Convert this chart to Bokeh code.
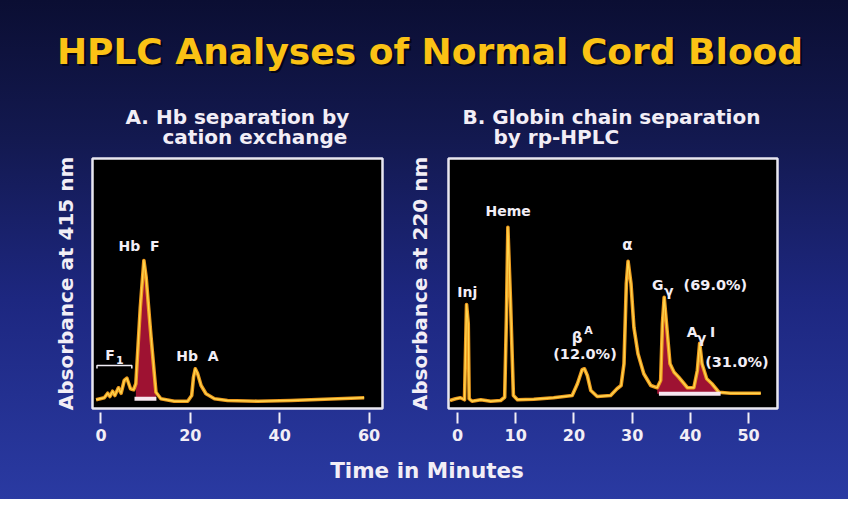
import numpy as np
from bokeh.plotting import figure
from bokeh.models import Range1d, FixedTicker, ColumnDataSource
from bokeh.layouts import column, row
from bokeh.embed import file_html
from bokeh.resources import INLINE
from bokeh.core.properties import value

# ---------------- data ----------------
# Panel A: Hb separation by cation exchange (time in min, absorbance at 415 nm, arbitrary units)
a_time = [-1.1, 0.74, 1.5, 2.0, 2.6, 3.1, 3.9, 4.5, 5.2, 5.8, 6.6, 7.3, 7.8, 8.8, 9.6,
          10.1, 11.2, 12.3, 13.4, 16.4, 19.4, 20.3, 20.7, 21.1, 21.6, 22.4, 23.5, 25.4,
          28.3, 35.1, 42.5, 50.0, 58.9]
a_abs = [3.5, 4.3, 6.1, 4.8, 6.9, 5.2, 8.3, 6.1, 11.2, 12.1, 7.9, 7.5, 9.9, 40.5, 59.2,
         52.5, 28.5, 6.5, 3.9, 2.9, 2.9, 5.2, 12.5, 15.9, 14.1, 9.2, 5.9, 3.9,
         3.2, 2.9, 3.2, 3.7, 4.3]
a_ticks = [0, 20, 40, 60]
a_shade = (7.8, 12.3)      # Hb F integrated region (min)
a_bar = (7.5, 12.4)
a_shade_base = 3.9

# Panel B: globin chain separation by rp-HPLC (time in min, absorbance at 220 nm)
b_time = [-1.3, -0.34, 0.5, 1.2, 1.55, 1.84, 2.0, 2.5, 4.0, 5.7, 7.4, 8.1, 8.4, 8.65, 9.1,
          9.6, 10.3, 13.1, 16.5, 19.7, 20.6, 21.4, 21.8, 22.3, 22.9, 24.0, 26.3, 27.4, 28.1,
          28.6, 29.0, 29.3, 29.8, 30.3, 31.0, 32.0, 33.2, 34.3, 34.9, 35.2, 35.5, 35.9, 36.5,
          37.2, 38.0, 39.5, 40.6, 41.2, 41.6, 42.0, 42.8, 43.7, 44.9, 46.9, 52.1]
b_abs = [3.2, 3.9, 4.3, 3.5, 41.6, 33.9, 3.9, 2.9, 3.5, 2.9, 3.2, 4.5, 36.5, 72.5, 43.2,
         5.2, 3.5, 3.7, 4.3, 5.2, 9.9, 15.5, 15.9, 13.2, 7.2, 4.8, 5.2, 7.9, 9.2,
         17.9, 49.9, 58.9, 49.9, 32.5, 21.9, 13.9, 9.2, 8.3, 11.2, 33.9, 44.5, 33.9, 17.9,
         14.5, 12.5, 8.3, 8.3, 15.2, 26.1, 17.9, 11.9, 9.9, 6.5, 6.1, 6.1]
b_ticks = [0, 10, 20, 30, 40, 50]
b_shade = (34.3, 44.9)     # G-gamma + A-gamma integrated region
b_bar = (34.6, 45.2)
b_shade_base = 5.9

TITLE = "HPLC Analyses of Normal Cord Blood"
SUB_A = ["A. Hb separation by", "cation exchange"]
SUB_B = ["B. Globin chain separation", "by rp-HPLC"]
YLAB_A = "Absorbance at 415 nm"
YLAB_B = "Absorbance at 220 nm"
XLAB = "Time in Minutes"

# peak labels: text, x (min), y (abs), font size
a_lab_text = ["Hb\u00a0\u00a0F", "F", "1", "Hb\u00a0\u00a0A"]
a_lab_x = [8.5, 2.0, 4.2, 21.6]
a_lab_y = [65.2, 21.6, 19.6, 21.2]
a_lab_size = ["14px", "14px", "11px", "14px"]

b_lab_text = ["Inj", "Heme", "\u03b2", "A", "(12.0%)", "\u03b1", "G", "\u03b3", "(69.0%)",
              "A", "\u03b3", "I", "(31.0%)"]
b_lab_x = [1.67, 8.7, 20.56, 22.5, 21.9, 29.2, 34.4, 36.3, 44.3, 40.3, 41.9, 43.8, 48.0]
b_lab_y = [46.5, 79.2, 28.3, 31.2, 22.0, 65.6, 49.6, 47.2, 49.6, 30.8, 28.4, 30.8, 18.8]
b_lab_size = ["14px", "14px", "15px", "11px", "14.5px", "15px", "14px", "14px", "14.5px",
              "14px", "14px", "14px", "14.5px"]

# ---------------- style ----------------
FONT = "DejaVu Sans"
TXT = "#f2eef6"
TRACE_OUT = "#ec9a1e"
TRACE_IN = "#ffd54e"
PEAK_FILL = "#9e1232"
BAR = "#f7e6ef"
GOLD = "#fbc215"


def blank(w, h):
    p = figure(width=w, height=h, x_range=Range1d(0, w), y_range=Range1d(h, 0),
               output_backend="svg", toolbar_location=None, title=None,
               x_axis_location=None, y_axis_location=None, min_border=0)
    p.grid.visible = False
    p.outline_line_color = None
    p.background_fill_alpha = 0
    p.border_fill_alpha = 0
    return p


def txt(p, x, y, s, size, color, align="left", alpha=1.0):
    p.text(x=[x], y=[y], text=[s], text_font=value(FONT), text_font_style="bold",
           text_font_size=size, text_color=color, text_alpha=alpha,
           text_align=align, text_baseline="middle")


# header: title + panel subtitles (pixel coordinates)
hdr = blank(848, 150)
txt(hdr, 431.5, 52.5, TITLE, "36px", "#03030f", "center", 0.85)
txt(hdr, 429.5, 50.5, TITLE, "36px", GOLD, "center")
txt(hdr, 125, 116.5, SUB_A[0], "20px", TXT)
txt(hdr, 162, 136, SUB_A[1], "20px", TXT)
txt(hdr, 462, 116.5, SUB_B[0], "20px", TXT)
txt(hdr, 493, 136, SUB_B[1], "20px", TXT)


def panel(w, xr, left, right, ticks, ylabel, standoff):
    p = figure(width=w, height=300, x_range=Range1d(*xr), y_range=Range1d(0, 100),
               output_backend="svg", toolbar_location=None, title=None,
               min_border_left=left, min_border_right=right,
               min_border_top=8, min_border_bottom=42)
    p.background_fill_color = "black"
    p.border_fill_alpha = 0
    p.outline_line_color = "#e9e7f1"
    p.outline_line_width = 2.5
    p.grid.visible = False
    xa = p.xaxis[0]
    xa.ticker = FixedTicker(ticks=ticks)
    xa.axis_line_color = None
    xa.major_tick_in = -4
    xa.major_tick_out = 15
    xa.major_tick_line_color = TXT
    xa.major_tick_line_width = 2
    xa.minor_tick_line_color = None
    xa.major_label_standoff = 5
    xa.major_label_text_font = FONT
    xa.major_label_text_font_style = "bold"
    xa.major_label_text_font_size = "16px"
    xa.major_label_text_color = TXT
    ya = p.yaxis[0]
    ya.ticker = FixedTicker(ticks=[])
    ya.axis_line_color = None
    ya.major_tick_line_color = None
    ya.minor_tick_line_color = None
    ya.major_tick_in = 0
    ya.major_tick_out = 0
    ya.major_label_standoff = 0
    ya.major_label_text_font_size = "0px"
    ya.axis_label = ylabel
    ya.axis_label_standoff = standoff
    ya.axis_label_text_font = FONT
    ya.axis_label_text_font_style = "bold"
    ya.axis_label_text_font_size = "20px"
    ya.axis_label_text_color = TXT
    return p


def draw(p, t, a, shade, base, bar, lt, lx, ly, ls):
    t = np.asarray(t)
    a = np.asarray(a)
    m = (t >= shade[0]) & (t <= shade[1])
    p.varea(x=t[m], y1=np.full(m.sum(), base), y2=a[m], fill_color=PEAK_FILL)
    p.line(t, a, line_color=TRACE_OUT, line_width=3.6, line_join="round")
    p.line(t, a, line_color=TRACE_IN, line_width=1.3, line_join="round")
    p.segment(x0=[bar[0]], x1=[bar[1]], y0=[base], y1=[base], line_color=BAR, line_width=4)
    src = ColumnDataSource(dict(x=lx, y=ly, text=lt, size=ls))
    p.text(x="x", y="y", text="text", source=src, text_font=value(FONT),
           text_font_style="bold", text_font_size="size", text_color=TXT,
           text_align="center", text_baseline="middle")


pa = panel(400, (-1.9, 63.0), 92, 18, a_ticks, YLAB_A, 15)
draw(pa, a_time, a_abs, a_shade, a_shade_base, a_bar,
     a_lab_text, a_lab_x, a_lab_y, a_lab_size)
pa.line(x=[-0.9, -0.9, 6.9, 6.9], y=[16.0, 17.2, 17.2, 16.0], line_color=TXT, line_width=1.5)

pb = panel(448, (-1.55, 54.97), 48, 71, b_ticks, YLAB_B, 17)
draw(pb, b_time, b_abs, b_shade, b_shade_base, b_bar,
     b_lab_text, b_lab_x, b_lab_y, b_lab_size)

ftr = blank(848, 49)
txt(ftr, 426.5, 19.5, XLAB, "21.5px", TXT, "center")

layout = column(hdr, row(pa, pb), ftr,
                styles={"background": "linear-gradient(180deg, #0b0e33 0%, #131950 28%, #1d2780 60%, #2a3aa2 100%)"})

open("out.html", "w").write(file_html(layout, INLINE))
